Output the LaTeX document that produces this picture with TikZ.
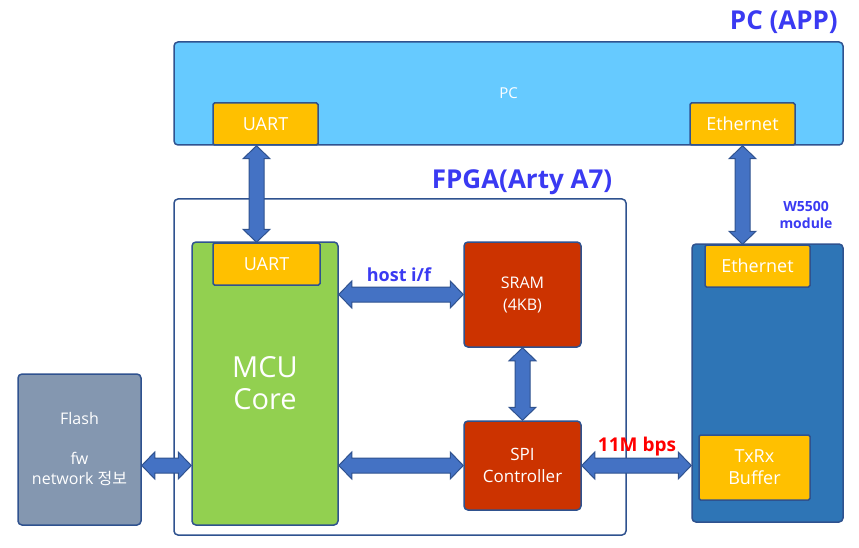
\documentclass[tikz,border=0pt]{standalone}
\usepackage{fontspec}
\setmainfont{Open Sans}
\newfontfamily\kr{Noto Sans CJK KR}
\usetikzlibrary{calc}

\definecolor{pcblue}{HTML}{66CAFF}
\definecolor{edge}{HTML}{2F528F}
\definecolor{portyel}{HTML}{FFC000}
\definecolor{mcugreen}{HTML}{92D050}
\definecolor{memred}{HTML}{CC3300}
\definecolor{modblue}{HTML}{2E75B6}
\definecolor{flashgray}{HTML}{8497B0}
\definecolor{busblue}{HTML}{4472C4}
\definecolor{titleblue}{HTML}{3A3AF2}

% fat double-headed bus arrow between two points
\newcommand{\busarrow}[2]{%
  \path (#1) coordinate (bA) (#2) coordinate (bB);
  \path ($(bA)!13pt!(bB)$) coordinate (hA) ($(bB)!13pt!(bA)$) coordinate (hB);
  \filldraw[fill=busblue, draw=edge, line width=1pt, line join=miter]
    (bA) -- ($(hA)!13.5pt!90:(bB)$) -- ($(hA)!7.5pt!90:(bB)$)
    -- ($(hB)!7.5pt!-90:(bA)$) -- ($(hB)!13.5pt!-90:(bA)$) -- (bB)
    -- ($(hB)!13.5pt!90:(bA)$) -- ($(hB)!7.5pt!90:(bA)$)
    -- ($(hA)!7.5pt!-90:(bB)$) -- ($(hA)!13.5pt!-90:(bB)$) -- cycle;
}

\begin{document}
\begin{tikzpicture}[
    x=1pt, y=-1pt,
    blk/.style={draw=edge, line width=1.5pt, rounded corners=4pt, text=white,
                align=center, inner sep=0pt},
    port/.style={blk, fill=portyel, rounded corners=1.5pt,
                 minimum width=105pt, minimum height=42pt, font=\fontsize{18}{20}\selectfont},
    title/.style={text=titleblue, font=\bfseries\fontsize{26}{30}\selectfont,
                  inner sep=0pt, align=center}
]
\useasboundingbox (0,0) rectangle (859,548);

% PC side
\node[blk, fill=pcblue, minimum width=669pt, minimum height=103pt,
      font=\fontsize{15}{18}\selectfont] (pc) at (508.5,93.5) {PC};
\node[port] (uartpc) at (265.5,124) {UART};
\node[port] (ethpc) at (742.5,124) {Ethernet};
\node[title, anchor=east] (pctitle) at (838,22) {PC (APP)};

% FPGA
\node[blk, fill=white, minimum width=452pt, minimum height=336pt] (fpga) at (400,367) {};
\node[title] (fpgatitle) at (522,182) {FPGA(Arty A7)};
\node[blk, fill=mcugreen, minimum width=146pt, minimum height=283pt,
      font=\fontsize{29}{32}\selectfont] (mcu) at (265,383.5) {MCU\\Core};
\node[port, minimum width=107pt] (uartmcu) at (266.5,264) {UART};
\node[blk, fill=memred, minimum width=117pt, minimum height=105pt,
      font=\fontsize{16}{22}\selectfont] (sram) at (522.5,294.5) {SRAM\\(4KB)};
\node[blk, fill=memred, minimum width=117pt, minimum height=89pt,
      font=\fontsize{17}{22}\selectfont] (spi) at (522.5,465.5) {SPI\\Controller};
\node[title, font=\bfseries\fontsize{18}{20}\selectfont] (hostif) at (399,275) {host i/f};

% W5500
\node[blk, fill=modblue, minimum width=151pt, minimum height=278pt] (w5500) at (767.5,383) {};
\node[port] (ethw) at (757.5,266) {Ethernet};
\node[port, minimum width=111pt, minimum height=65pt,
      font=\fontsize{18}{22}\selectfont] (txrx) at (754.5,467.5) {TxRx\\Buffer};
\node[title, font=\bfseries\fontsize{14}{17}\selectfont] (w5500lbl) at (806,215) {W5500\\module};
\node[text=red, font=\bfseries\fontsize{19}{22}\selectfont, inner sep=0pt] (rate) at (637,447) {11M bps};

% Flash
\node[blk, fill=flashgray, minimum width=123pt, minimum height=151pt,
      font=\fontsize{16}{20}\selectfont] (flash) at (79.5,449.5) {Flash\\[20pt]fw\\network {\kr 정보}};

% buses
\busarrow{[xshift=-9pt]uartpc.south}{[xshift=-9pt]uartpc.south |- uartmcu.north}
\busarrow{ethpc.south}{ethpc.south |- ethw.north}
\busarrow{mcu.east |- sram.west}{sram.west}
\busarrow{sram.south}{spi.north}
\busarrow{mcu.east |- spi.west}{spi.west}
\busarrow{spi.east}{w5500.west |- spi.east}
\busarrow{flash.east |- spi.west}{mcu.west |- spi.west}
\end{tikzpicture}
\end{document}
